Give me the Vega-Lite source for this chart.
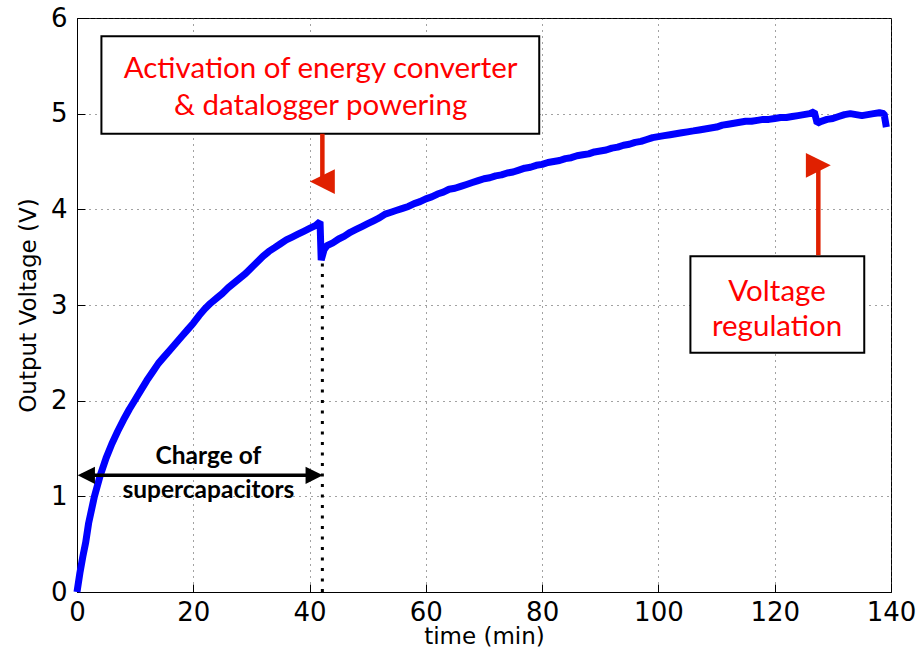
{
  "$schema": "https://vega.github.io/schema/vega-lite/v6.json",
  "width": 814,
  "height": 574,
  "autosize": {"type": "none"},
  "padding": {"left": 77, "top": 18, "right": 32, "bottom": 64},
  "background": "white",
  "config": {
    "view": {"stroke": "black", "strokeWidth": 1},
    "axis": {
      "domainColor": "black",
      "tickColor": "black",
      "labelFont": "DejaVu Sans",
      "titleFont": "DejaVu Sans",
      "labelColor": "black",
      "titleColor": "black",
      "labelFontSize": 26,
      "titleFontSize": 23,
      "titleFontWeight": "normal",
      "gridColor": "#444",
      "gridDash": [1, 5],
      "gridWidth": 1,
      "tickSize": -8,
      "labelFlush": false,
      "format": "d"
    }
  },
  "datasets": {
    "curve": [
      {"t":0,"v":0},{"t":0.5,"v":0.2},{"t":1,"v":0.37},{"t":1.5,"v":0.52},{"t":2,"v":0.72},{"t":3,"v":1.0},{"t":4,"v":1.22},{"t":5,"v":1.4},{"t":6,"v":1.55},{"t":7,"v":1.68},{"t":8,"v":1.8},{"t":9,"v":1.91},{"t":10,"v":2.01},{"t":11,"v":2.11},{"t":12,"v":2.21},{"t":13,"v":2.3},{"t":14,"v":2.39},{"t":15,"v":2.46},{"t":16,"v":2.53},{"t":17,"v":2.6},{"t":18,"v":2.67},{"t":19,"v":2.74},{"t":20,"v":2.81},{"t":21,"v":2.89},{"t":22,"v":2.96},{"t":23,"v":3.02},{"t":24,"v":3.07},{"t":25,"v":3.12},{"t":26,"v":3.18},{"t":27,"v":3.23},{"t":28,"v":3.28},{"t":29,"v":3.33},{"t":30,"v":3.39},{"t":31,"v":3.45},{"t":32,"v":3.51},{"t":33,"v":3.56},{"t":34,"v":3.6},{"t":35,"v":3.64},{"t":36,"v":3.68},{"t":37,"v":3.71},{"t":38,"v":3.74},{"t":39,"v":3.77},{"t":40,"v":3.8},{"t":41,"v":3.83},{"t":41.8,"v":3.87},{"t":42.0,"v":3.47},{"t":42.5,"v":3.58},{"t":43,"v":3.62},{"t":44,"v":3.65},{"t":45,"v":3.69},{"t":46,"v":3.72},{"t":47,"v":3.76},{"t":48,"v":3.79},{"t":49,"v":3.82},{"t":50,"v":3.85},{"t":51,"v":3.88},{"t":52,"v":3.91},{"t":53,"v":3.95},{"t":54,"v":3.97},{"t":55,"v":3.99},{"t":56,"v":4.01},{"t":57,"v":4.03},{"t":58,"v":4.06},{"t":59,"v":4.08},{"t":60,"v":4.11},{"t":61,"v":4.13},{"t":62,"v":4.16},{"t":63,"v":4.18},{"t":64,"v":4.21},{"t":65,"v":4.22},{"t":66,"v":4.24},{"t":67,"v":4.26},{"t":68,"v":4.28},{"t":69,"v":4.3},{"t":70,"v":4.32},{"t":71,"v":4.33},{"t":72,"v":4.35},{"t":73,"v":4.36},{"t":74,"v":4.38},{"t":75,"v":4.39},{"t":76,"v":4.41},{"t":77,"v":4.43},{"t":78,"v":4.44},{"t":79,"v":4.46},{"t":80,"v":4.47},{"t":81,"v":4.49},{"t":82,"v":4.5},{"t":83,"v":4.51},{"t":84,"v":4.53},{"t":85,"v":4.54},{"t":86,"v":4.56},{"t":87,"v":4.57},{"t":88,"v":4.58},{"t":89,"v":4.6},{"t":90,"v":4.61},{"t":91,"v":4.62},{"t":92,"v":4.64},{"t":93,"v":4.65},{"t":94,"v":4.67},{"t":95,"v":4.68},{"t":96,"v":4.7},{"t":97,"v":4.71},{"t":98,"v":4.73},{"t":99,"v":4.75},{"t":100,"v":4.76},{"t":101,"v":4.77},{"t":102,"v":4.78},{"t":103,"v":4.79},{"t":104,"v":4.8},{"t":105,"v":4.81},{"t":106,"v":4.82},{"t":107,"v":4.83},{"t":108,"v":4.84},{"t":109,"v":4.85},{"t":110,"v":4.86},{"t":111,"v":4.88},{"t":112,"v":4.89},{"t":113,"v":4.9},{"t":114,"v":4.91},{"t":115,"v":4.92},{"t":116,"v":4.92},{"t":117,"v":4.93},{"t":118,"v":4.94},{"t":119,"v":4.94},{"t":120,"v":4.95},{"t":121,"v":4.96},{"t":122,"v":4.96},{"t":123,"v":4.97},{"t":124,"v":4.98},{"t":125,"v":4.99},{"t":126,"v":5.0},{"t":126.8,"v":5.02},{"t":127.3,"v":4.9},{"t":128,"v":4.92},{"t":129,"v":4.94},{"t":130,"v":4.95},{"t":131,"v":4.97},{"t":132,"v":4.99},{"t":133,"v":5.0},{"t":134,"v":4.99},{"t":135,"v":4.98},{"t":136,"v":4.99},{"t":137,"v":5.0},{"t":138,"v":5.01},{"t":138.8,"v":5.0},{"t":139.2,"v":4.86}
    ],
    "boxes": [
      {"x1": 4.2, "x2": 79.5, "y1": 4.79, "y2": 5.81},
      {"x1": 105.5, "x2": 135.4, "y1": 2.5, "y2": 3.51}
    ],
    "redtext": [
      {"t": 41.9, "v": 5.47, "label": "Activation of energy converter"},
      {"t": 41.9, "v": 5.08, "label": "& datalogger powering"},
      {"t": 120.4, "v": 3.14, "label": "Voltage"},
      {"t": 120.4, "v": 2.77, "label": "regulation"}
    ],
    "blacktext": [
      {"t": 22.6, "v": 1.41, "label": "Charge of"},
      {"t": 22.6, "v": 1.06, "label": "supercapacitors"}
    ]
  },
  "layer": [
    {
      "data": {"name": "curve"},
      "mark": {"type": "line", "color": "#0000ff", "strokeWidth": 7, "strokeJoin": "bevel"},
      "encoding": {
        "x": {"field": "t", "type": "quantitative", "scale": {"domain": [0, 140], "nice": false},
          "axis": {"values": [0,20,40,60,80,100,120,140], "title": "time (min)", "titlePadding": 0, "labelPadding": 15, "grid": true}},
        "y": {"field": "v", "type": "quantitative", "scale": {"domain": [0, 6], "nice": false},
          "axis": {"values": [0,1,2,3,4,5,6], "title": "Output Voltage (V)", "titlePadding": 10, "labelPadding": 18, "grid": true}}
      }
    },
    {
      "data": {"values": [{"t": 42.2, "a": 0, "b": 3.47}]},
      "mark": {"type": "rule", "color": "black", "strokeWidth": 3, "strokeDash": [3, 7.5]},
      "encoding": {"x": {"field": "t", "type": "quantitative"}, "y": {"field": "a", "type": "quantitative"}, "y2": {"field": "b"}}
    },
    {
      "data": {"values": [{"a": 0.8, "b": 41.4, "v": 1.22}]},
      "mark": {"type": "rule", "color": "black", "strokeWidth": 3.5},
      "encoding": {"x": {"field": "a", "type": "quantitative"}, "x2": {"field": "b"}, "y": {"field": "v", "type": "quantitative"}}
    },
    {
      "data": {"values": [{"t": 1.6, "v": 1.22, "dir": "left"}, {"t": 40.8, "v": 1.22, "dir": "right"}]},
      "mark": {"type": "point", "filled": true, "color": "black", "opacity": 1, "size": 300},
      "encoding": {
        "x": {"field": "t", "type": "quantitative"},
        "y": {"field": "v", "type": "quantitative"},
        "shape": {"field": "dir", "type": "nominal", "legend": null,
          "scale": {"domain": ["left", "right"], "range": ["M1,-1L1,1L-1,0Z", "M-1,-1L-1,1L1,0Z"]}}
      }
    },
    {
      "data": {"name": "blacktext"},
      "mark": {"type": "text", "font": "Lato", "fontWeight": "bold", "fontSize": 24.5, "color": "black", "baseline": "middle", "align": "center"},
      "encoding": {"x": {"field": "t", "type": "quantitative"}, "y": {"field": "v", "type": "quantitative"}, "text": {"field": "label"}}
    },
    {
      "data": {"name": "boxes"},
      "mark": {"type": "rect", "fill": "white", "stroke": "black", "strokeWidth": 2},
      "encoding": {
        "x": {"field": "x1", "type": "quantitative"}, "x2": {"field": "x2"},
        "y": {"field": "y1", "type": "quantitative"}, "y2": {"field": "y2"}
      }
    },
    {
      "data": {"name": "redtext"},
      "mark": {"type": "text", "font": "Lato", "fontSize": 29.5, "color": "#ff0000", "baseline": "middle", "align": "center"},
      "encoding": {"x": {"field": "t", "type": "quantitative"}, "y": {"field": "v", "type": "quantitative"}, "text": {"field": "label"}}
    },
    {
      "data": {"values": [{"t": 42.2, "a": 4.79, "b": 4.3}, {"t": 127.5, "a": 3.52, "b": 4.45}]},
      "mark": {"type": "rule", "color": "#e02000", "strokeWidth": 4.5},
      "encoding": {"x": {"field": "t", "type": "quantitative"}, "y": {"field": "a", "type": "quantitative"}, "y2": {"field": "b"}}
    },
    {
      "data": {"values": [{"t": 42.2, "v": 4.29, "dir": "down"}, {"t": 127.5, "v": 4.46, "dir": "up"}]},
      "mark": {"type": "point", "filled": true, "color": "#e02000", "opacity": 1, "size": 620},
      "encoding": {
        "x": {"field": "t", "type": "quantitative"},
        "y": {"field": "v", "type": "quantitative"},
        "shape": {"field": "dir", "type": "nominal", "legend": null,
          "scale": {"domain": ["down", "up"], "range": ["triangle-down", "triangle-up"]}}
      }
    }
  ]
}
